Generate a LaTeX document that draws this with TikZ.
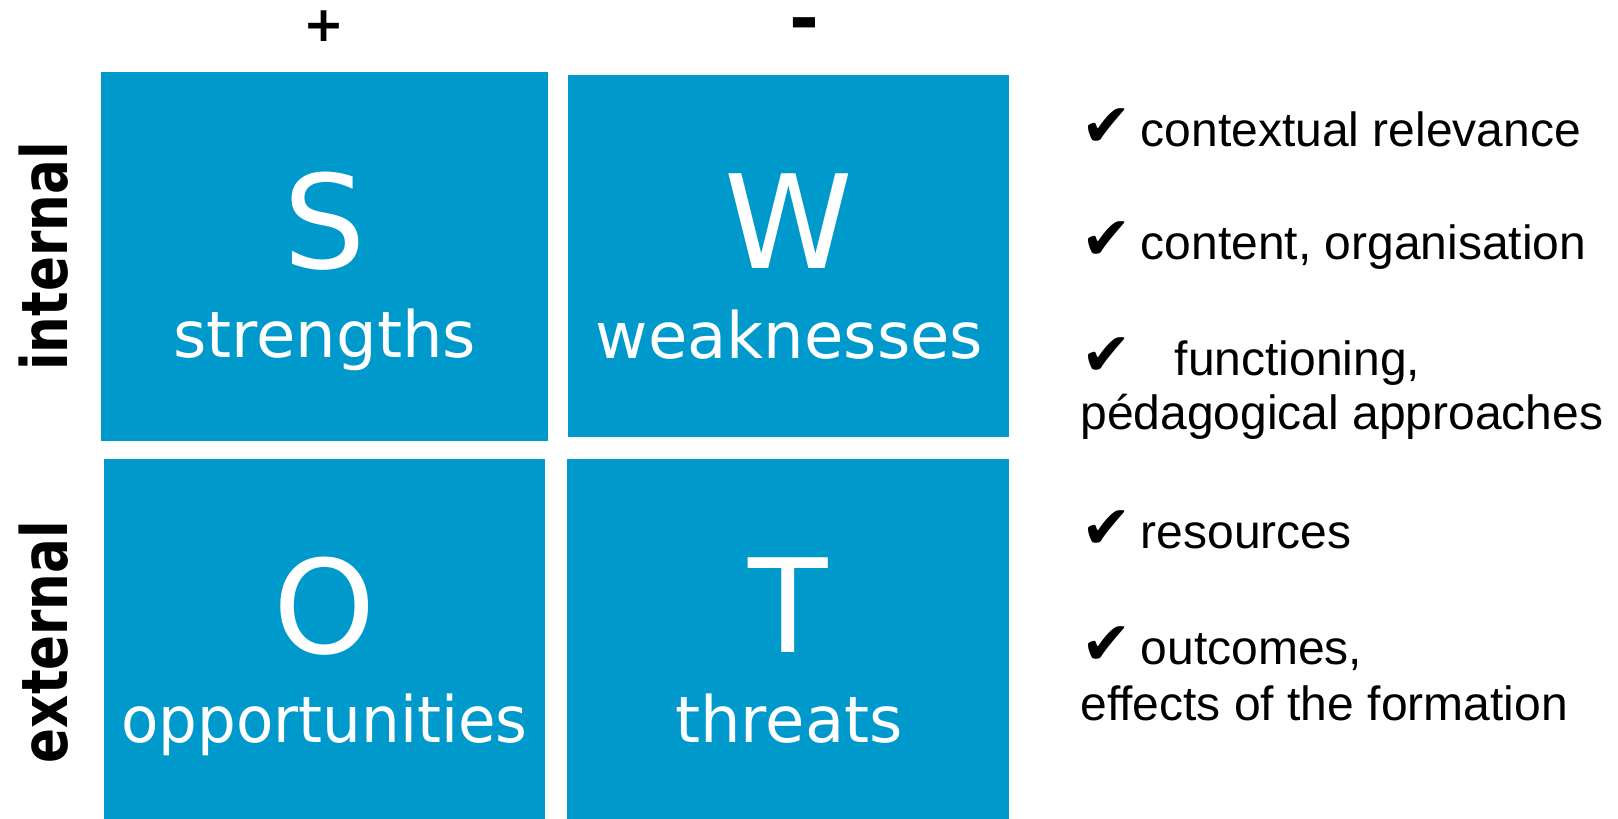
\documentclass[tikz,border=0pt]{standalone}
\usepackage{fontspec}
\setmainfont{Liberation Sans}
\newfontfamily\dejavu{DejaVu Sans}
\definecolor{swotblue}{RGB}{0,153,204}
\newcommand{\chk}{{\dejavu\fontsize{30}{30}\selectfont ✔}}
\tikzset{
  swotbox/.style={fill=swotblue},
  bigletter/.style={text=white, font=\dejavu\fontsize{65}{78}\selectfont, inner sep=0, anchor=base},
  boxword/.style={text=white, font=\dejavu\fontsize{32}{38}\selectfont, inner sep=0, anchor=base},
  sidelabel/.style={font=\dejavu\bfseries\fontsize{32}{38}\selectfont, inner sep=0, anchor=base, rotate=90},
  signlabel/.style={font=\dejavu\bfseries, inner sep=0, anchor=base},
  item/.style={font=\fontsize{24}{27.6}\selectfont, inner sep=0, anchor=base west, align=left},
}
\begin{document}
\begin{tikzpicture}[x=0.5pt,y=-0.5pt]
\useasboundingbox (0,0) rectangle (1618,819);
% boxes
\path[swotbox] (101,72) rectangle (548,441);
\path[swotbox] (568,75) rectangle (1009,437);
\path[swotbox] (104,459) rectangle (545,819);
\path[swotbox] (567,459) rectangle (1009,819);
% letters
\node[bigletter] (S) at (324.5,268) {S};
\node[bigletter] (W) at (788.5,268) {W};
\node[bigletter] (O) at (324.5,653) {O};
\node[bigletter] (T) at (788,652) {T};
\node[boxword] (sw) at (324.5,357) {strengths};
\node[boxword] (ww) at (789.5,358) {weaknesses};
\node[boxword] (ow) at (324.5,742) {\scalebox{0.955}[1]{opportunities}};
\node[boxword] (tw) at (789,742) {threats};
% signs
\node[signlabel, font=\dejavu\bfseries\fontsize{24.5}{28}\selectfont] (plus) at (324,41) {+};
\node[signlabel, font=\dejavu\bfseries\fontsize{36}{40}\selectfont] (minus) at (804,43) {-};
% side labels
\node[sidelabel] (int) at (68,256.5) {\scalebox{0.805}[1]{internal}};
\node[sidelabel] (ext) at (68,642) {\scalebox{0.805}[1]{external}};
% right list
\node[item] (r1) at (1081,146) {\chk\hspace{4.5pt}contextual relevance};
\node[item] (r2) at (1081,259) {\chk\hspace{4.5pt}content, organisation};
\node[item] (r3) at (1081,375) {\chk\hspace{21.5pt}functioning,};
\node[item] (r4) at (1080,429) {pédagogical approaches};
\node[item] (r5) at (1081,548) {\chk\hspace{4.5pt}resources};
\node[item] (r6) at (1081,664) {\chk\hspace{4.5pt}outcomes,};
\node[item] (r7) at (1080,720) {effects of the formation};
\end{tikzpicture}
\end{document}
